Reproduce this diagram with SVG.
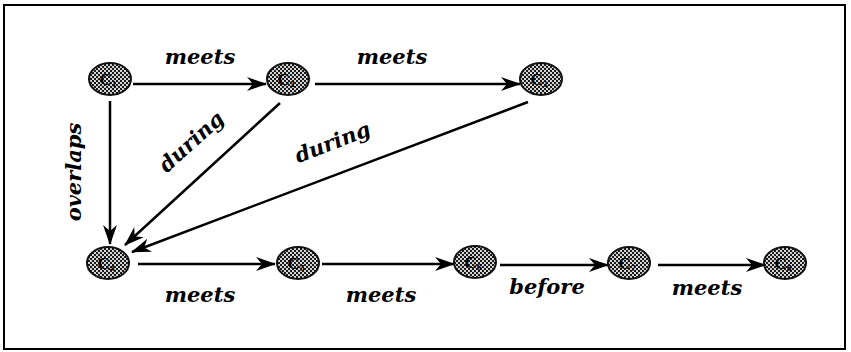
<svg xmlns="http://www.w3.org/2000/svg" width="851" height="352" viewBox="0 0 851 352">
<defs>
<pattern id="hatch" width="4" height="4" patternUnits="userSpaceOnUse">
<rect width="4" height="4" fill="#d4d4d4"/>
<rect width="2" height="2" fill="#1a1a1a"/>
<rect x="2" y="2" width="2" height="2" fill="#1a1a1a"/>
</pattern>
<marker id="ah" viewBox="0 0 20 14" refX="19" refY="7" markerWidth="20" markerHeight="14" markerUnits="userSpaceOnUse" orient="auto">
<path d="M0,0 L20,7 L0,14 L6,7 Z" fill="#000"/>
</marker>
</defs>
<style>
.node ellipse{fill:url(#hatch);stroke:#111;stroke-width:2}
.node text{font-family:"Liberation Serif",serif;font-size:17px;font-weight:bold;fill:#000;text-anchor:middle}
.edge{stroke:#000;stroke-width:2.5;fill:none;marker-end:url(#ah)}
.lbl{font-family:"DejaVu Serif",serif;font-size:21px;font-weight:bold;font-style:italic;fill:#000;text-anchor:middle}
</style>
<rect x="4" y="5" width="841" height="344" fill="#fff" stroke="#000" stroke-width="2"/>
<g id="connectors">
<line class="edge" x1="133" y1="84" x2="266" y2="84"/>
<line class="edge" x1="315" y1="84" x2="520" y2="84"/>
<line class="edge" x1="110" y1="101" x2="110" y2="244"/>
<line class="edge" x1="280" y1="103" x2="125" y2="245"/>
<line class="edge" x1="528" y1="102" x2="132" y2="252"/>
<line class="edge" x1="138" y1="264" x2="275" y2="264"/>
<line class="edge" x1="322" y1="264" x2="454" y2="264"/>
<line class="edge" x1="500" y1="265" x2="608" y2="265"/>
<line class="edge" x1="658" y1="265" x2="765" y2="265"/>
</g>
<g id="labels">
<text class="lbl" x="200" y="64">meets</text>
<text class="lbl" x="392" y="64">meets</text>
<text class="lbl" transform="translate(81,172) rotate(-90)">overlaps</text>
<text class="lbl" transform="translate(196,147) rotate(-42)">during</text>
<text class="lbl" transform="translate(335,149) rotate(-21)">during</text>
<text class="lbl" x="200" y="302">meets</text>
<text class="lbl" x="381" y="302">meets</text>
<text class="lbl" x="547" y="294">before</text>
<text class="lbl" x="707" y="295">meets</text>
</g>
<g id="C1" class="node"><ellipse cx="110" cy="79" rx="21" ry="16"/><text x="108" y="85">C<tspan font-size="9" dy="2">1</tspan></text></g>
<g id="C2" class="node"><ellipse cx="288" cy="79" rx="21" ry="16"/><text x="286" y="85">C<tspan font-size="9" dy="2">2</tspan></text></g>
<g id="C3" class="node"><ellipse cx="541" cy="79" rx="21" ry="16"/><text x="539" y="85">C<tspan font-size="9" dy="2">3</tspan></text></g>
<g id="C4" class="node"><ellipse cx="108" cy="263" rx="21" ry="16"/><text x="106" y="269">C<tspan font-size="9" dy="2">4</tspan></text></g>
<g id="C5" class="node"><ellipse cx="298" cy="263" rx="21" ry="16"/><text x="296" y="269">C<tspan font-size="9" dy="2">5</tspan></text></g>
<g id="C6" class="node"><ellipse cx="475" cy="262" rx="21" ry="16"/><text x="473" y="268">C<tspan font-size="9" dy="2">6</tspan></text></g>
<g id="C7" class="node"><ellipse cx="629" cy="263" rx="21" ry="16"/><text x="627" y="269">C<tspan font-size="9" dy="2">7</tspan></text></g>
<g id="C8" class="node"><ellipse cx="785" cy="263" rx="21" ry="16"/><text x="783" y="269">C<tspan font-size="9" dy="2">8</tspan></text></g>
</svg>
